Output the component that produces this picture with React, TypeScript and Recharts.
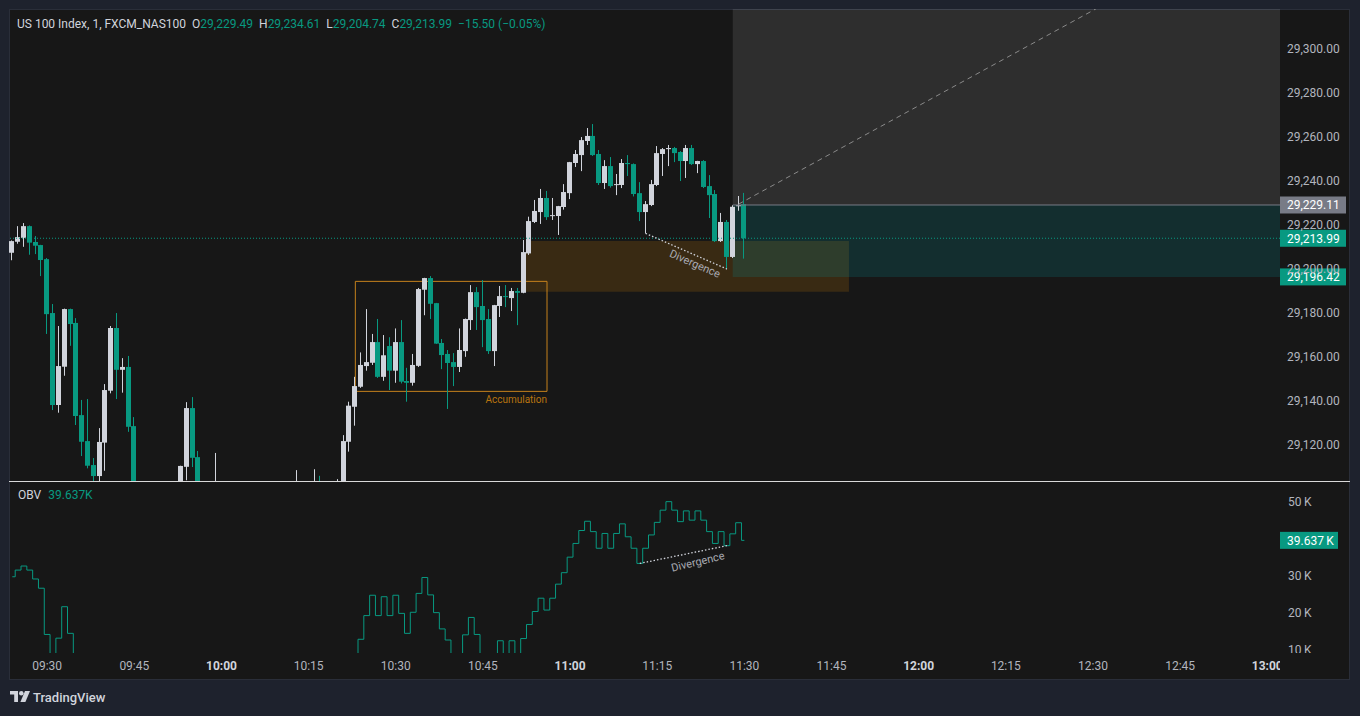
import React from 'react';
import { ComposedChart, Bar, Line, XAxis, YAxis, ReferenceArea, ReferenceLine, ReferenceDot } from 'recharts';

const FONT = "Roboto, 'Noto Sans', Arial, sans-serif";
const TEAL = '#089981';
const UP = '#d1d4dc';
const TXT = '#b2b5be';
const BG = '#171717';

// 1-minute bars, 09:24 (index 0) to 11:30 (index 126)
const openP = [
  29207.4, 29212.4, 29214.2, 29219.5, 29212.3, 29210.9, 29204.5, 29180.0, 29138.2, 29155.6,
  29181.8, 29175.5, 29133.6, 29121.8, 29110.9, 29105.9, 29121.1, 29144.7, 29173.2, 29154.2,
  29155.5, 29128.6, 29098, 29085, 29092, 29078, 29070, 29080, 29089, 29096,
  29110.1, 29136.8, 29114.5, 29095, 29088, 29096, 29100, 29090, 29082, 29088,
  29079, 29072, 29078, 29084, 29077, 29083, 29090, 29085, 29091, 29091,
  29096, 29094, 29089, 29096, 29091, 29095, 29099, 29102, 29121.5, 29137.4,
  29146.5, 29155.9, 29157.4, 29166.8, 29151.0, 29165.0, 29153.8, 29166.8, 29149.1, 29148.3,
  29156.0, 29190.6, 29195.9, 29184.5, 29166.4, 29161.4, 29157.7, 29155.5, 29162.7, 29176.8,
  29189.5, 29183.2, 29177.3, 29162.7, 29183.2, 29187.7, 29186.8, 29190.0, 29189.2, 29207.1,
  29221.4, 29225.9, 29232.3, 29224.1, 29224.1, 29228.2, 29234.5, 29248.2, 29251.8, 29258.2,
  29260.5, 29252.3, 29239.1, 29246.8, 29238.2, 29238.2, 29248.2, 29247.7, 29234.5, 29225.9,
  29229.1, 29238.2, 29252.3, 29254.5, 29255.0, 29253.2, 29249.1, 29255.0, 29247.7, 29249.1,
  29237.7, 29234.1, 29212.7, 29221.4, 29205.5, 29228.6, 29229.49,
];
const highP = [
  29213.0, 29219.5, 29220.9, 29219.8, 29215.0, 29211.0, 29205.0, 29184.1, 29174.1, 29182.0,
  29182.0, 29177.7, 29140.5, 29140.9, 29114.1, 29127.7, 29147.7, 29174.1, 29180.0, 29159.5,
  29160.5, 29132.7, 29100, 29095, 29094, 29082, 29084, 29092, 29099, 29110.6,
  29139.5, 29141.8, 29117.3, 29098, 29099, 29116.4, 29101, 29093, 29091, 29090,
  29082, 29081, 29087, 29086, 29088, 29093, 29094, 29096, 29099, 29108.6,
  29098, 29097, 29109, 29106, 29099, 29101, 29104.5, 29124.5, 29139.7, 29151.0,
  29162.1, 29181.8, 29170.5, 29177.3, 29170.0, 29169.0, 29173.0, 29176.8, 29155.1, 29161.4,
  29191.4, 29196.0, 29196.8, 29184.6, 29168.2, 29163.2, 29161.8, 29173.0, 29177.5, 29192.7,
  29191.8, 29195.0, 29181.8, 29183.7, 29192.3, 29192.7, 29191.4, 29191.4, 29213.2, 29223.8,
  29231.4, 29236.4, 29235.5, 29232.3, 29228.7, 29238.6, 29248.7, 29254.1, 29260.0, 29264.1,
  29265.9, 29254.1, 29249.5, 29250.9, 29243.2, 29250.0, 29251.8, 29248.0, 29239.5, 29230.9,
  29240.5, 29255.9, 29255.0, 29256.4, 29255.5, 29253.6, 29256.4, 29256.4, 29249.2, 29249.5,
  29242.7, 29235.9, 29225.5, 29222.3, 29229.0, 29233.2, 29234.61,
];
const lowP = [
  29204.0, 29211.5, 29210.1, 29206.5, 29206.8, 29196.8, 29170.5, 29135.9, 29134.7, 29151.5,
  29165.1, 29129.1, 29115.0, 29109.4, 29100.0, 29102.0, 29108.3, 29143.5, 29140.9, 29143.8,
  29126.0, 29094.0, 29080, 29082, 29075, 29066, 29068, 29078, 29086, 29094,
  29104.0, 29110.0, 29090.0, 29084, 29086, 29092, 29087, 29078, 29080, 29075,
  29068, 29070, 29076, 29074, 29075, 29081, 29082, 29083, 29089, 29088,
  29088, 29086, 29087, 29088, 29089, 29093, 29097, 29100, 29117.0, 29128.8,
  29146.0, 29153.8, 29156.4, 29150.5, 29149.2, 29145.0, 29148.3, 29148.0, 29139.7, 29147.0,
  29155.5, 29179.0, 29177.3, 29166.0, 29154.5, 29136.4, 29146.8, 29153.2, 29160.1, 29172.3,
  29172.3, 29164.5, 29161.4, 29155.9, 29178.2, 29182.7, 29180.9, 29174.5, 29189.0, 29206.4,
  29220.9, 29220.5, 29222.3, 29222.3, 29215.5, 29227.0, 29231.8, 29246.4, 29244.5, 29256.4,
  29251.4, 29238.2, 29236.4, 29237.0, 29233.6, 29236.8, 29242.3, 29233.0, 29221.8, 29216.2,
  29228.6, 29237.7, 29242.3, 29246.8, 29248.6, 29240.0, 29241.4, 29247.3, 29243.6, 29236.8,
  29223.2, 29212.3, 29212.3, 29200.0, 29205.0, 29226.5, 29204.74,
];
const closeP = [
  29212.7, 29214.5, 29219.5, 29212.0, 29210.6, 29204.1, 29179.5, 29138.2, 29155.9, 29181.8,
  29175.0, 29133.2, 29121.5, 29110.6, 29105.9, 29121.4, 29145.0, 29173.2, 29154.2, 29155.5,
  29128.3, 29098.0, 29085, 29092, 29078, 29070, 29080, 29089, 29096, 29110.5,
  29136.8, 29114.2, 29095.0, 29088, 29096, 29100, 29090, 29082, 29088, 29079,
  29072, 29078, 29084, 29077, 29083, 29090, 29085, 29091, 29095, 29096,
  29090, 29089, 29096, 29091, 29095, 29099, 29102, 29121.8, 29137.9, 29146.8,
  29156.4, 29157.7, 29166.8, 29151.0, 29160.8, 29153.8, 29166.8, 29148.8, 29148.3, 29156.4,
  29190.9, 29195.9, 29184.2, 29166.1, 29160.9, 29157.3, 29155.5, 29163.2, 29177.3, 29189.5,
  29182.7, 29176.8, 29162.7, 29183.6, 29187.7, 29187.3, 29190.0, 29189.2, 29207.7, 29221.8,
  29226.4, 29232.3, 29223.6, 29224.5, 29228.6, 29235.0, 29248.6, 29252.3, 29258.6, 29260.5,
  29251.8, 29239.1, 29246.8, 29237.7, 29238.6, 29248.2, 29247.7, 29234.1, 29225.9, 29229.5,
  29238.6, 29252.7, 29254.5, 29255.0, 29252.7, 29249.1, 29255.0, 29247.7, 29249.1, 29237.3,
  29233.6, 29212.7, 29221.4, 29205.5, 29228.3, 29229.0, 29213.99,
];
// OBV in thousands
const obvK = [
  29.8, 31.6, 32.7, 31.6, 29.2, 26.7, 14.2, 5.5, 13.2, 21.7,
  14.5, 6.0, -2.0, -8.0, -12.0, -5.0, 1.0, 6.0, 0.5, 3.0,
  -3.0, -10.0, -14.0, -11.0, -16.0, -19.0, -15.5, -12.0, -9.0, -4.0,
  3.0, -3.5, -9.0, -12.0, -9.5, -7.0, -10.0, -13.0, -11.0, -14.5,
  -17.0, -15.0, -12.5, -14.5, -12.0, -9.0, -11.0, -8.5, -6.0, -3.5,
  -6.0, -8.0, -5.0, -7.0, -5.0, -3.0, -1.0, 3.0, 6.0, 8.5,
  12.9, 19.3, 24.8, 19.3, 24.4, 19.3, 24.8, 19.9, 14.5, 20.2,
  25.3, 29.6, 24.9, 20.1, 15.7, 12.7, 7.5, 8.5, 14.1, 18.8,
  14.2, 8.0, 4.0, 8.0, 12.5, 8.5, 12.5, 8.5, 13.1, 16.9,
  20.4, 24.0, 20.8, 24.0, 27.8, 30.9, 35.1, 38.8, 42.3, 44.8,
  42.0, 37.5, 41.5, 37.5, 41.5, 44.1, 40.6, 37.5, 33.4, 37.5,
  41.1, 44.5, 47.8, 50.1, 47.8, 44.7, 47.6, 45.1, 47.6, 45.1,
  42.0, 38.8, 42.0, 38.2, 41.4, 44.4, 39.637,
];

const priceTicks = [29120, 29140, 29160, 29180, 29200, 29220, 29240, 29260, 29280, 29300];
const obvTicks = [10, 20, 30, 50];
const timeTicks = [6, 21, 36, 51, 66, 81, 96, 111, 126, 141, 156, 171, 186, 201, 216];
const timeLabels = ['09:30', '09:45', '10:00', '10:15', '10:30', '10:45', '11:00', '11:15', '11:30', '11:45', '12:00', '12:15', '12:30', '12:45', '13:00'];

const X_MIN = -0.57;
const X_MAX = 218.19;
const PRICE_MIN = 29103.2;
const PRICE_MAX = 29318.2;
const OBV_MIN = 9.19;
const OBV_MAX = 55.14;

const data = openP.map((o, i) => ({ i, o, h: highP[i], l: lowP[i], c: closeP[i], obv: obvK[i] }));

const last = data[data.length - 1];
const fmt2 = (v: number) => v.toLocaleString('en-US', { minimumFractionDigits: 2, maximumFractionDigits: 2 });
const chg = last.c - last.o;
const chgPct = (chg / last.o) * 100;
const minus = (s: string) => s.replace('-', '\u2212');

function Candle(props: any) {
  const { x, y, width, height, index } = props;
  const d = props.payload && props.payload.o !== undefined ? props.payload : data[index];
  if (!d || x == null || y == null || height == null) return null;
  const top = Math.min(y, y + height);
  const span = Math.abs(height);
  const ppu = span / (d.h - d.l);
  const cx = Math.floor(x + width / 2) + 0.5;
  const up = d.c >= d.o;
  const color = up ? UP : TEAL;
  const bTop = top + (d.h - Math.max(d.o, d.c)) * ppu;
  const bBot = top + (d.h - Math.min(d.o, d.c)) * ppu;
  const bh = Math.max(1, bBot - bTop);
  return (
    <g>
      <line x1={cx} x2={cx} y1={top} y2={top + span} stroke={color} strokeWidth={1} />
      <rect x={cx - 2.5} y={bTop} width={5} height={bh} fill={color} />
    </g>
  );
}

const PriceTick = (p: any) => (
  <text x={p.x + 7} y={p.y} dominantBaseline="central" fill={TXT} fontSize={12} fontFamily={FONT}>
    {fmt2(p.payload.value)}
  </text>
);

const ObvTick = (p: any) => (
  <text x={p.x + 8} y={p.y} dominantBaseline="central" fill={TXT} fontSize={12} fontFamily={FONT}>
    {`${p.payload.value}\u2009K`}
  </text>
);

const TimeTick = (p: any) => {
  const idx = timeTicks.indexOf(p.payload.value);
  const label = timeLabels[idx] || '';
  const bold = label.endsWith(':00');
  return (
    <text x={p.x} y={p.y + 13} textAnchor="middle" dominantBaseline="central" fill={bold ? '#d1d4dc' : TXT}
      fontWeight={bold ? 700 : 400} fontSize={12} fontFamily={FONT}>
      {label}
    </text>
  );
};

const badge = (text: string, bg: string, w: number) => (p: any) => (
  <g>
    <rect x={p.cx} y={p.cy - 8.5} width={w} height={17} fill={bg} />
    <text x={p.cx + 7} y={p.cy + 0.5} dominantBaseline="central" fill="#ffffff" fontSize={12} fontFamily={FONT}>
      {text}
    </text>
  </g>
);

const textMark = (text: string, angle: number, color: string, size: number, anchor: string, dy: number) => (p: any) => (
  <text x={p.cx} y={p.cy + dy} transform={`rotate(${angle} ${p.cx} ${p.cy})`} textAnchor={anchor as any}
    dominantBaseline="central" fill={color} fontSize={size} fontFamily={FONT}>
    {text}
  </text>
);

function Logo() {
  return (
    <svg width={22} height={14} style={{ position: 'absolute', left: 10, top: 691 }}>
      <path d="M0 0 H8 V11 H4.2 V3.6 H0 Z" fill="#d1d4dc" />
      <circle cx={11.3} cy={2.3} r={2.3} fill="#d1d4dc" />
      <path d="M15 0 H20 L15.4 11 H10.4 Z" fill="#d1d4dc" />
    </svg>
  );
}

export default function App() {
  return (
    <div style={{ position: 'absolute', left: 0, top: 0, width: 1360, height: 716, background: '#1e222d', overflow: 'hidden', fontFamily: FONT }}>
      <div style={{ position: 'absolute', left: 9, top: 9, width: 1341, height: 671, background: BG, boxSizing: 'border-box', border: '1px solid #2a2e39' }} />

      {/* price pane */}
      <div style={{ position: 'absolute', left: 9, top: 9 }}>
        <ComposedChart width={1341} height={473} data={data} margin={{ top: 0, right: 0, bottom: 0, left: 0 }}>
          <XAxis type="number" dataKey="i" domain={[X_MIN, X_MAX]} allowDataOverflow hide />
          <YAxis orientation="right" width={70} domain={[PRICE_MIN, PRICE_MAX]} allowDataOverflow ticks={priceTicks}
            interval={0} tickSize={0} tickMargin={0} axisLine={false} tickLine={false} tick={<PriceTick />} />
          <ReferenceArea x1={88.4} x2={144.0} y1={29189.7} y2={29212.7} fill="#ff9800" fillOpacity={0.15} stroke="none" ifOverflow="hidden" />
          <ReferenceArea x1={124} x2={X_MAX} y1={29196.42} y2={29229.11} fill="#038a8f" fillOpacity={0.2} stroke="none" ifOverflow="hidden" />
          <ReferenceArea x1={124} x2={X_MAX} y1={29229.11} y2={29400} fill="#ffffff" fillOpacity={0.1} stroke="none" ifOverflow="hidden" />
          <ReferenceArea x1={59.04} x2={92.03} y1={29144.4} y2={29194.4} fill="none" fillOpacity={0} stroke="#c5811c" strokeWidth={1} ifOverflow="hidden" />
          <ReferenceLine y={29213.99} stroke={TEAL} strokeDasharray="1 2" strokeWidth={1} />
          <ReferenceLine segment={[{ x: 124, y: 29229.11 }, { x: X_MAX, y: 29229.11 }]} stroke="#787b86" strokeWidth={1} ifOverflow="hidden" />
          <Bar dataKey={(d: any) => [d.l, d.h]} barSize={5} shape={<Candle />} isAnimationActive={false} />
          <ReferenceLine segment={[{ x: 125, y: 29229.5 }, { x: X_MAX, y: 29364 }]} stroke="#8a8a8a" strokeDasharray="5 4" strokeWidth={1} ifOverflow="hidden" />
          <ReferenceLine segment={[{ x: 109, y: 29216.2 }, { x: 123, y: 29200.0 }]} stroke="#d1d4dc" strokeDasharray="1.5 2" strokeWidth={1.3} ifOverflow="hidden" />
          <ReferenceDot x={117.5} y={29202.3} r={1} shape={textMark('Divergence', 23.5, '#a9abb2', 11, 'middle', 0)} ifOverflow="visible" />
          <ReferenceDot x={92.03} y={29144.4} r={1} shape={textMark('Accumulation', 0, '#b9740f', 10, 'end', 8.5)} ifOverflow="visible" />
          <ReferenceDot x={X_MAX} y={29229.11} r={1} shape={badge('29,229.11', '#787b86', 66)} ifOverflow="visible" />
          <ReferenceDot x={X_MAX} y={29213.99} r={1} shape={badge(fmt2(last.c), TEAL, 66)} ifOverflow="visible" />
          <ReferenceDot x={X_MAX} y={29196.42} r={1} shape={badge('29,196.42', TEAL, 66)} ifOverflow="visible" />
        </ComposedChart>
      </div>

      {/* header */}
      <div style={{ position: 'absolute', left: 17, top: 16, fontSize: 12, lineHeight: '16px', color: '#d1d4dc', whiteSpace: 'nowrap' }}>
        <span>US 100 Index, 1, FXCM_NAS100</span>
        <span style={{ marginLeft: 6 }}>O<span style={{ color: TEAL }}>{fmt2(last.o)}</span></span>
        <span style={{ marginLeft: 6 }}>H<span style={{ color: TEAL }}>{fmt2(last.h)}</span></span>
        <span style={{ marginLeft: 6 }}>L<span style={{ color: TEAL }}>{fmt2(last.l)}</span></span>
        <span style={{ marginLeft: 6 }}>C<span style={{ color: TEAL }}>{fmt2(last.c)}</span></span>
        <span style={{ marginLeft: 6, color: TEAL }}>{minus(chg.toFixed(2))} ({minus(chgPct.toFixed(2))}%)</span>
      </div>

      {/* separator */}
      <div style={{ position: 'absolute', left: 9, top: 481, width: 1341, height: 1, background: '#d9d9d9' }} />

      {/* OBV pane */}
      <div style={{ position: 'absolute', left: 9, top: 483 }}>
        <ComposedChart width={1341} height={197} data={data} margin={{ top: 0, right: 0, bottom: 0, left: 0 }}>
          <XAxis type="number" dataKey="i" domain={[X_MIN, X_MAX]} allowDataOverflow ticks={timeTicks} interval={0}
            height={27} tickSize={0} tickMargin={0} axisLine={false} tickLine={false} tick={<TimeTick />} />
          <YAxis orientation="right" width={70} domain={[OBV_MIN, OBV_MAX]} allowDataOverflow ticks={obvTicks}
            interval={0} tickSize={0} tickMargin={0} axisLine={false} tickLine={false} tick={<ObvTick />} />
          <Line dataKey="obv" type="step" stroke={TEAL} strokeWidth={1} dot={false} activeDot={false} isAnimationActive={false} />
          <ReferenceLine segment={[{ x: 108, y: 33.4 }, { x: 123, y: 38.2 }]} stroke="#d1d4dc" strokeDasharray="1.5 2" strokeWidth={1.3} ifOverflow="hidden" />
          <ReferenceDot x={118} y={33.8} r={1} shape={textMark('Divergence', -13.5, '#a9abb2', 11, 'middle', 0)} ifOverflow="visible" />
          <ReferenceDot x={X_MAX} y={39.637} r={1} shape={badge('39.637\u2009K', TEAL, 58)} ifOverflow="visible" />
        </ComposedChart>
      </div>

      {/* cover for axis corner */}
      <div style={{ position: 'absolute', left: 1280, top: 653, width: 69, height: 26, background: BG }} />

      {/* OBV legend */}
      <div style={{ position: 'absolute', left: 18, top: 488, fontSize: 12, lineHeight: '14px', color: '#d1d4dc', whiteSpace: 'nowrap' }}>
        OBV<span style={{ marginLeft: 7, color: TEAL }}>39.637K</span>
      </div>

      <Logo />
      <div style={{ position: 'absolute', left: 33, top: 690, fontSize: 13, lineHeight: '16px', color: '#d1d4dc', fontWeight: 500 }}>TradingView</div>
    </div>
  );
}
